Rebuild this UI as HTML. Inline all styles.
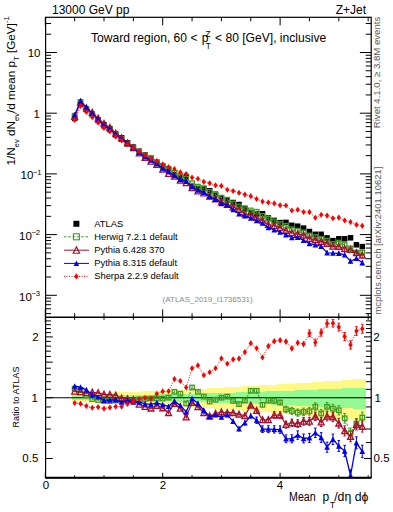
<!DOCTYPE html><html><head><meta charset="utf-8"><style>html,body{margin:0;padding:0;background:#fff;}svg{display:block;font-family:"Liberation Sans",sans-serif;}</style></head><body><svg width="393" height="512" viewBox="0 0 393 512" font-family="Liberation Sans, sans-serif">
<rect width="393" height="512" fill="#fff"/>
<defs><clipPath id="cm"><rect x="45.6" y="17.3" width="325.59999999999997" height="300.0"/></clipPath><clipPath id="cr"><rect x="45.6" y="317.3" width="325.59999999999997" height="160.5"/></clipPath></defs>
<g clip-path="url(#cm)">
<rect x="71.90" y="115.65" width="5.50" height="5.50" fill="#000"/>
<rect x="77.77" y="101.45" width="5.50" height="5.50" fill="#000"/>
<rect x="83.64" y="106.75" width="5.50" height="5.50" fill="#000"/>
<rect x="89.51" y="111.45" width="5.50" height="5.50" fill="#000"/>
<rect x="95.38" y="117.05" width="5.50" height="5.50" fill="#000"/>
<rect x="101.25" y="121.95" width="5.50" height="5.50" fill="#000"/>
<rect x="107.12" y="125.85" width="5.50" height="5.50" fill="#000"/>
<rect x="112.99" y="131.25" width="5.50" height="5.50" fill="#000"/>
<rect x="118.86" y="135.05" width="5.50" height="5.50" fill="#000"/>
<rect x="124.73" y="139.95" width="5.50" height="5.50" fill="#000"/>
<rect x="130.60" y="144.35" width="5.50" height="5.50" fill="#000"/>
<rect x="136.47" y="148.45" width="5.50" height="5.50" fill="#000"/>
<rect x="142.34" y="152.25" width="5.50" height="5.50" fill="#000"/>
<rect x="148.21" y="155.45" width="5.50" height="5.50" fill="#000"/>
<rect x="154.08" y="159.55" width="5.50" height="5.50" fill="#000"/>
<rect x="159.95" y="163.35" width="5.50" height="5.50" fill="#000"/>
<rect x="165.82" y="166.35" width="5.50" height="5.50" fill="#000"/>
<rect x="171.69" y="171.85" width="5.50" height="5.50" fill="#000"/>
<rect x="177.56" y="174.45" width="5.50" height="5.50" fill="#000"/>
<rect x="183.43" y="174.25" width="5.50" height="5.50" fill="#000"/>
<rect x="189.30" y="183.55" width="5.50" height="5.50" fill="#000"/>
<rect x="195.17" y="185.65" width="5.50" height="5.50" fill="#000"/>
<rect x="201.04" y="185.85" width="5.50" height="5.50" fill="#000"/>
<rect x="206.91" y="188.05" width="5.50" height="5.50" fill="#000"/>
<rect x="212.78" y="191.45" width="5.50" height="5.50" fill="#000"/>
<rect x="218.65" y="194.95" width="5.50" height="5.50" fill="#000"/>
<rect x="224.52" y="197.25" width="5.50" height="5.50" fill="#000"/>
<rect x="230.39" y="199.75" width="5.50" height="5.50" fill="#000"/>
<rect x="236.26" y="201.75" width="5.50" height="5.50" fill="#000"/>
<rect x="242.13" y="205.55" width="5.50" height="5.50" fill="#000"/>
<rect x="248.00" y="209.75" width="5.50" height="5.50" fill="#000"/>
<rect x="253.87" y="211.05" width="5.50" height="5.50" fill="#000"/>
<rect x="259.74" y="210.95" width="5.50" height="5.50" fill="#000"/>
<rect x="265.61" y="215.25" width="5.50" height="5.50" fill="#000"/>
<rect x="271.48" y="217.65" width="5.50" height="5.50" fill="#000"/>
<rect x="277.35" y="219.85" width="5.50" height="5.50" fill="#000"/>
<rect x="283.22" y="219.65" width="5.50" height="5.50" fill="#000"/>
<rect x="289.09" y="222.55" width="5.50" height="5.50" fill="#000"/>
<rect x="294.96" y="223.45" width="5.50" height="5.50" fill="#000"/>
<rect x="300.83" y="225.35" width="5.50" height="5.50" fill="#000"/>
<rect x="306.70" y="228.75" width="5.50" height="5.50" fill="#000"/>
<rect x="312.57" y="231.55" width="5.50" height="5.50" fill="#000"/>
<rect x="318.44" y="231.55" width="5.50" height="5.50" fill="#000"/>
<rect x="324.31" y="235.15" width="5.50" height="5.50" fill="#000"/>
<rect x="330.18" y="237.85" width="5.50" height="5.50" fill="#000"/>
<rect x="336.05" y="236.05" width="5.50" height="5.50" fill="#000"/>
<rect x="341.92" y="236.05" width="5.50" height="5.50" fill="#000"/>
<rect x="347.79" y="235.05" width="5.50" height="5.50" fill="#000"/>
<rect x="353.66" y="242.05" width="5.50" height="5.50" fill="#000"/>
<rect x="359.53" y="243.85" width="5.50" height="5.50" fill="#000"/>
<path d="M74.65,115.22V116.18M80.52,101.41V102.37M86.39,108.33V109.29M92.26,114.10V115.08M98.13,120.00V120.98M104.00,125.19V126.19M109.87,129.08V130.10M115.74,134.32V135.36M121.61,138.26V139.32M127.48,142.99V144.09M133.35,147.38V148.50M139.22,151.16V152.32M145.09,154.79V155.99M150.96,157.82V159.06M156.83,161.90V163.18M162.70,165.70V167.04M168.57,168.38V169.76M174.44,172.11V173.55M180.31,175.25V176.75M186.18,177.96V179.52M192.05,182.42V184.05M197.92,185.78V187.47M203.79,187.39V189.15M209.66,191.02V192.86M215.53,193.84V195.76M221.40,196.70V198.70M227.27,198.63V200.71M233.14,202.37V204.55M239.01,205.29V207.56M244.88,207.96V210.32M250.75,209.20V211.66M256.62,210.45V213.01M262.49,214.50V217.17M268.36,217.45V220.23M274.23,219.89V222.77M280.10,222.54V225.54M285.97,224.33V227.45M291.84,227.65V230.89M297.71,228.99V232.36M303.58,230.59V234.08M309.45,233.74V237.37M315.32,235.15V238.91M321.19,237.10V241.00M327.06,238.61V242.65M332.93,241.81V246.00M338.80,240.42V244.75M344.67,242.75V247.23M350.54,246.09V250.73M356.41,250.18V254.98M362.28,250.07V255.03" stroke="#3f9a22" stroke-width="1" fill="none"/>
<path d="M74.65,116.00V116.96M80.52,101.95V102.91M86.39,107.54V108.51M92.26,112.09V113.06M98.13,117.83V118.82M104.00,123.18V124.18M109.87,127.16V128.18M115.74,132.73V133.77M121.61,137.42V138.48M127.48,142.54V143.64M133.35,147.17V148.29M139.22,152.60V153.76M145.09,157.07V158.27M150.96,160.73V161.98M156.83,164.00V165.29M162.70,168.53V169.86M168.57,172.91V174.30M174.44,175.62V177.06M180.31,179.67V181.17M186.18,182.05V183.61M192.05,186.93V188.56M197.92,190.29V191.98M203.79,192.22V193.99M209.66,195.38V197.22M215.53,197.99V199.91M221.40,201.00V203.00M227.27,203.46V205.55M233.14,205.92V208.09M239.01,208.39V210.65M244.88,212.59V214.95M250.75,213.52V215.98M256.62,216.40V218.96M262.49,219.01V221.67M268.36,223.25V226.03M274.23,224.16V227.04M280.10,226.36V229.36M285.97,228.92V232.04M291.84,231.22V234.46M297.71,232.30V235.67M303.58,233.44V236.94M309.45,236.78V240.40M315.32,238.04V241.80M321.19,239.68V243.58M327.06,241.50V245.54M332.93,244.31V248.49M338.80,244.30V248.63M344.67,246.53V251.02M350.54,247.17V251.81M356.41,250.48V255.28M362.28,252.77V257.73" stroke="#a5102a" stroke-width="1" fill="none"/>
<path d="M74.65,114.40V115.48M80.52,100.50V101.59M86.39,106.58V107.67M92.26,112.78V113.88M98.13,119.00V120.11M104.00,124.95V126.07M109.87,128.72V129.86M115.74,134.05V135.22M121.61,138.49V139.69M127.48,142.93V144.16M133.35,147.76V149.03M139.22,151.84V153.15M145.09,156.19V157.54M150.96,159.48V160.88M156.83,163.11V164.56M162.70,167.42V168.92M168.57,170.93V172.49M174.44,174.78V176.40M180.31,178.67V180.36M186.18,180.39V182.15M192.05,185.66V187.49M197.92,189.19V191.10M203.79,191.39V193.38M209.66,195.50V197.58M215.53,198.29V200.45M221.40,202.37V204.63M227.27,204.00V206.34M233.14,208.37V210.81M239.01,212.57V215.12M244.88,214.51V217.17M250.75,216.59V219.35M256.62,219.12V222.00M262.49,221.67V224.67M268.36,225.91V229.03M274.23,228.30V231.55M280.10,230.50V233.87M285.97,233.00V236.51M291.84,235.83V239.47M297.71,235.55V239.33M303.58,238.40V242.33M309.45,241.54V245.62M315.32,242.73V246.96M321.19,244.07V248.45M327.06,250.50V255.05M332.93,250.75V255.46M338.80,250.88V255.75M344.67,252.29V257.34M350.54,258.57V263.79M356.41,255.65V261.05M362.28,259.95V265.53" stroke="#0000ee" stroke-width="1" fill="none"/>
<path d="M74.65,119.57V120.41M80.52,105.58V106.42M86.39,111.57V112.42M92.26,116.81V117.66M98.13,122.19V123.06M104.00,127.54V128.41M109.87,131.10V131.99M115.74,136.22V137.13M121.61,140.01V140.94M127.48,144.08V145.04M133.35,147.90V148.89M139.22,151.08V152.10M145.09,154.54V155.59M150.96,157.96V159.04M156.83,160.54V161.66M162.70,163.62V164.79M168.57,166.54V167.75M174.44,168.38V169.64M180.31,171.53V172.84M186.18,173.25V174.62M192.05,176.75V178.18M197.92,177.95V179.44M203.79,181.07V182.61M209.66,182.33V183.94M215.53,184.53V186.21M221.40,185.01V186.77M227.27,188.87V190.70M233.14,190.04V191.94M239.01,191.76V193.74M244.88,193.56V195.63M250.75,195.08V197.23M256.62,197.83V200.08M262.49,200.45V202.79M268.36,201.28V203.71M274.23,202.16V204.68M280.10,204.04V206.66M285.97,204.18V206.91M291.84,209.07V211.90M297.71,208.23V211.18M303.58,210.46V213.52M309.45,210.53V213.70M315.32,216.07V219.36M321.19,213.03V216.44M327.06,213.84V217.37M332.93,216.41V220.07M338.80,215.69V219.48M344.67,218.48V222.40M350.54,219.90V223.96M356.41,222.66V226.86M362.28,223.70V228.04" stroke="#ff0000" stroke-width="1" fill="none"/>
<polyline points="74.65,115.70 80.52,101.89 86.39,108.81 92.26,114.59 98.13,120.49 104.00,125.69 109.87,129.59 115.74,134.84 121.61,138.79 127.48,143.54 133.35,147.94 139.22,151.74 145.09,155.39 150.96,158.44 156.83,162.54 162.70,166.37 168.57,169.07 174.44,172.83 180.31,176.00 186.18,178.74 192.05,183.23 197.92,186.63 203.79,188.27 209.66,191.94 215.53,194.80 221.40,197.70 227.27,199.67 233.14,203.46 239.01,206.42 244.88,209.14 250.75,210.43 256.62,211.73 262.49,215.83 268.36,218.84 274.23,221.33 280.10,224.04 285.97,225.89 291.84,229.27 297.71,230.68 303.58,232.34 309.45,235.56 315.32,237.03 321.19,239.05 327.06,240.63 332.93,243.91 338.80,242.59 344.67,244.99 350.54,248.41 356.41,252.58 362.28,252.55" fill="none" stroke="#3f9a22" stroke-width="1.0" stroke-dasharray="2.5,1.8"/>
<rect x="72.40" y="113.45" width="4.50" height="4.50" fill="none" stroke="#3f9a22" stroke-width="1.3"/>
<rect x="78.27" y="99.64" width="4.50" height="4.50" fill="none" stroke="#3f9a22" stroke-width="1.3"/>
<rect x="84.14" y="106.56" width="4.50" height="4.50" fill="none" stroke="#3f9a22" stroke-width="1.3"/>
<rect x="90.01" y="112.34" width="4.50" height="4.50" fill="none" stroke="#3f9a22" stroke-width="1.3"/>
<rect x="95.88" y="118.24" width="4.50" height="4.50" fill="none" stroke="#3f9a22" stroke-width="1.3"/>
<rect x="101.75" y="123.44" width="4.50" height="4.50" fill="none" stroke="#3f9a22" stroke-width="1.3"/>
<rect x="107.62" y="127.34" width="4.50" height="4.50" fill="none" stroke="#3f9a22" stroke-width="1.3"/>
<rect x="113.49" y="132.59" width="4.50" height="4.50" fill="none" stroke="#3f9a22" stroke-width="1.3"/>
<rect x="119.36" y="136.54" width="4.50" height="4.50" fill="none" stroke="#3f9a22" stroke-width="1.3"/>
<rect x="125.23" y="141.29" width="4.50" height="4.50" fill="none" stroke="#3f9a22" stroke-width="1.3"/>
<rect x="131.10" y="145.69" width="4.50" height="4.50" fill="none" stroke="#3f9a22" stroke-width="1.3"/>
<rect x="136.97" y="149.49" width="4.50" height="4.50" fill="none" stroke="#3f9a22" stroke-width="1.3"/>
<rect x="142.84" y="153.14" width="4.50" height="4.50" fill="none" stroke="#3f9a22" stroke-width="1.3"/>
<rect x="148.71" y="156.19" width="4.50" height="4.50" fill="none" stroke="#3f9a22" stroke-width="1.3"/>
<rect x="154.58" y="160.29" width="4.50" height="4.50" fill="none" stroke="#3f9a22" stroke-width="1.3"/>
<rect x="160.45" y="164.12" width="4.50" height="4.50" fill="none" stroke="#3f9a22" stroke-width="1.3"/>
<rect x="166.32" y="166.82" width="4.50" height="4.50" fill="none" stroke="#3f9a22" stroke-width="1.3"/>
<rect x="172.19" y="170.58" width="4.50" height="4.50" fill="none" stroke="#3f9a22" stroke-width="1.3"/>
<rect x="178.06" y="173.75" width="4.50" height="4.50" fill="none" stroke="#3f9a22" stroke-width="1.3"/>
<rect x="183.93" y="176.49" width="4.50" height="4.50" fill="none" stroke="#3f9a22" stroke-width="1.3"/>
<rect x="189.80" y="180.98" width="4.50" height="4.50" fill="none" stroke="#3f9a22" stroke-width="1.3"/>
<rect x="195.67" y="184.38" width="4.50" height="4.50" fill="none" stroke="#3f9a22" stroke-width="1.3"/>
<rect x="201.54" y="186.02" width="4.50" height="4.50" fill="none" stroke="#3f9a22" stroke-width="1.3"/>
<rect x="207.41" y="189.69" width="4.50" height="4.50" fill="none" stroke="#3f9a22" stroke-width="1.3"/>
<rect x="213.28" y="192.55" width="4.50" height="4.50" fill="none" stroke="#3f9a22" stroke-width="1.3"/>
<rect x="219.15" y="195.45" width="4.50" height="4.50" fill="none" stroke="#3f9a22" stroke-width="1.3"/>
<rect x="225.02" y="197.42" width="4.50" height="4.50" fill="none" stroke="#3f9a22" stroke-width="1.3"/>
<rect x="230.89" y="201.21" width="4.50" height="4.50" fill="none" stroke="#3f9a22" stroke-width="1.3"/>
<rect x="236.76" y="204.17" width="4.50" height="4.50" fill="none" stroke="#3f9a22" stroke-width="1.3"/>
<rect x="242.63" y="206.89" width="4.50" height="4.50" fill="none" stroke="#3f9a22" stroke-width="1.3"/>
<rect x="248.50" y="208.18" width="4.50" height="4.50" fill="none" stroke="#3f9a22" stroke-width="1.3"/>
<rect x="254.37" y="209.48" width="4.50" height="4.50" fill="none" stroke="#3f9a22" stroke-width="1.3"/>
<rect x="260.24" y="213.58" width="4.50" height="4.50" fill="none" stroke="#3f9a22" stroke-width="1.3"/>
<rect x="266.11" y="216.59" width="4.50" height="4.50" fill="none" stroke="#3f9a22" stroke-width="1.3"/>
<rect x="271.98" y="219.08" width="4.50" height="4.50" fill="none" stroke="#3f9a22" stroke-width="1.3"/>
<rect x="277.85" y="221.79" width="4.50" height="4.50" fill="none" stroke="#3f9a22" stroke-width="1.3"/>
<rect x="283.72" y="223.64" width="4.50" height="4.50" fill="none" stroke="#3f9a22" stroke-width="1.3"/>
<rect x="289.59" y="227.02" width="4.50" height="4.50" fill="none" stroke="#3f9a22" stroke-width="1.3"/>
<rect x="295.46" y="228.43" width="4.50" height="4.50" fill="none" stroke="#3f9a22" stroke-width="1.3"/>
<rect x="301.33" y="230.09" width="4.50" height="4.50" fill="none" stroke="#3f9a22" stroke-width="1.3"/>
<rect x="307.20" y="233.31" width="4.50" height="4.50" fill="none" stroke="#3f9a22" stroke-width="1.3"/>
<rect x="313.07" y="234.78" width="4.50" height="4.50" fill="none" stroke="#3f9a22" stroke-width="1.3"/>
<rect x="318.94" y="236.80" width="4.50" height="4.50" fill="none" stroke="#3f9a22" stroke-width="1.3"/>
<rect x="324.81" y="238.38" width="4.50" height="4.50" fill="none" stroke="#3f9a22" stroke-width="1.3"/>
<rect x="330.68" y="241.66" width="4.50" height="4.50" fill="none" stroke="#3f9a22" stroke-width="1.3"/>
<rect x="336.55" y="240.34" width="4.50" height="4.50" fill="none" stroke="#3f9a22" stroke-width="1.3"/>
<rect x="342.42" y="242.74" width="4.50" height="4.50" fill="none" stroke="#3f9a22" stroke-width="1.3"/>
<rect x="348.29" y="246.16" width="4.50" height="4.50" fill="none" stroke="#3f9a22" stroke-width="1.3"/>
<rect x="354.16" y="250.33" width="4.50" height="4.50" fill="none" stroke="#3f9a22" stroke-width="1.3"/>
<rect x="360.03" y="250.30" width="4.50" height="4.50" fill="none" stroke="#3f9a22" stroke-width="1.3"/>
<polyline points="74.65,116.48 80.52,102.43 86.39,108.03 92.26,112.58 98.13,118.33 104.00,123.68 109.87,127.67 115.74,133.25 121.61,137.95 127.48,143.09 133.35,147.73 139.22,153.18 145.09,157.67 150.96,161.36 156.83,164.64 162.70,169.20 168.57,173.61 174.44,176.34 180.31,180.42 186.18,182.83 192.05,187.74 197.92,191.13 203.79,193.11 209.66,196.30 215.53,198.95 221.40,202.00 227.27,204.51 233.14,207.01 239.01,209.52 244.88,213.77 250.75,214.75 256.62,217.68 262.49,220.34 268.36,224.64 274.23,225.60 280.10,227.86 285.97,230.48 291.84,232.84 297.71,233.98 303.58,235.19 309.45,238.59 315.32,239.92 321.19,241.63 327.06,243.52 332.93,246.40 338.80,246.46 344.67,248.78 350.54,249.49 356.41,252.88 362.28,255.25" fill="none" stroke="#a5102a" stroke-width="1.1"/>
<polygon points="71.75,119.23 77.55,119.23 74.65,113.43" fill="none" stroke="#a5102a" stroke-width="1.35"/>
<polygon points="77.62,105.18 83.42,105.18 80.52,99.38" fill="none" stroke="#a5102a" stroke-width="1.35"/>
<polygon points="83.49,110.78 89.29,110.78 86.39,104.98" fill="none" stroke="#a5102a" stroke-width="1.35"/>
<polygon points="89.36,115.33 95.16,115.33 92.26,109.53" fill="none" stroke="#a5102a" stroke-width="1.35"/>
<polygon points="95.23,121.08 101.03,121.08 98.13,115.28" fill="none" stroke="#a5102a" stroke-width="1.35"/>
<polygon points="101.10,126.43 106.90,126.43 104.00,120.63" fill="none" stroke="#a5102a" stroke-width="1.35"/>
<polygon points="106.97,130.42 112.77,130.42 109.87,124.62" fill="none" stroke="#a5102a" stroke-width="1.35"/>
<polygon points="112.84,136.00 118.64,136.00 115.74,130.20" fill="none" stroke="#a5102a" stroke-width="1.35"/>
<polygon points="118.71,140.71 124.51,140.71 121.61,134.91" fill="none" stroke="#a5102a" stroke-width="1.35"/>
<polygon points="124.58,145.85 130.38,145.85 127.48,140.05" fill="none" stroke="#a5102a" stroke-width="1.35"/>
<polygon points="130.45,150.49 136.25,150.49 133.35,144.69" fill="none" stroke="#a5102a" stroke-width="1.35"/>
<polygon points="136.32,155.94 142.12,155.94 139.22,150.14" fill="none" stroke="#a5102a" stroke-width="1.35"/>
<polygon points="142.19,160.43 147.99,160.43 145.09,154.63" fill="none" stroke="#a5102a" stroke-width="1.35"/>
<polygon points="148.06,164.11 153.86,164.11 150.96,158.31" fill="none" stroke="#a5102a" stroke-width="1.35"/>
<polygon points="153.93,167.40 159.73,167.40 156.83,161.60" fill="none" stroke="#a5102a" stroke-width="1.35"/>
<polygon points="159.80,171.95 165.60,171.95 162.70,166.15" fill="none" stroke="#a5102a" stroke-width="1.35"/>
<polygon points="165.67,176.36 171.47,176.36 168.57,170.56" fill="none" stroke="#a5102a" stroke-width="1.35"/>
<polygon points="171.54,179.10 177.34,179.10 174.44,173.30" fill="none" stroke="#a5102a" stroke-width="1.35"/>
<polygon points="177.41,183.17 183.21,183.17 180.31,177.37" fill="none" stroke="#a5102a" stroke-width="1.35"/>
<polygon points="183.28,185.58 189.08,185.58 186.18,179.78" fill="none" stroke="#a5102a" stroke-width="1.35"/>
<polygon points="189.15,190.50 194.95,190.50 192.05,184.70" fill="none" stroke="#a5102a" stroke-width="1.35"/>
<polygon points="195.02,193.89 200.82,193.89 197.92,188.09" fill="none" stroke="#a5102a" stroke-width="1.35"/>
<polygon points="200.89,195.86 206.69,195.86 203.79,190.06" fill="none" stroke="#a5102a" stroke-width="1.35"/>
<polygon points="206.76,199.05 212.56,199.05 209.66,193.25" fill="none" stroke="#a5102a" stroke-width="1.35"/>
<polygon points="212.63,201.70 218.43,201.70 215.53,195.90" fill="none" stroke="#a5102a" stroke-width="1.35"/>
<polygon points="218.50,204.75 224.30,204.75 221.40,198.95" fill="none" stroke="#a5102a" stroke-width="1.35"/>
<polygon points="224.37,207.26 230.17,207.26 227.27,201.46" fill="none" stroke="#a5102a" stroke-width="1.35"/>
<polygon points="230.24,209.76 236.04,209.76 233.14,203.96" fill="none" stroke="#a5102a" stroke-width="1.35"/>
<polygon points="236.11,212.27 241.91,212.27 239.01,206.47" fill="none" stroke="#a5102a" stroke-width="1.35"/>
<polygon points="241.98,216.52 247.78,216.52 244.88,210.72" fill="none" stroke="#a5102a" stroke-width="1.35"/>
<polygon points="247.85,217.51 253.65,217.51 250.75,211.71" fill="none" stroke="#a5102a" stroke-width="1.35"/>
<polygon points="253.72,220.43 259.52,220.43 256.62,214.63" fill="none" stroke="#a5102a" stroke-width="1.35"/>
<polygon points="259.59,223.10 265.39,223.10 262.49,217.30" fill="none" stroke="#a5102a" stroke-width="1.35"/>
<polygon points="265.46,227.40 271.26,227.40 268.36,221.60" fill="none" stroke="#a5102a" stroke-width="1.35"/>
<polygon points="271.33,228.35 277.13,228.35 274.23,222.55" fill="none" stroke="#a5102a" stroke-width="1.35"/>
<polygon points="277.20,230.61 283.00,230.61 280.10,224.81" fill="none" stroke="#a5102a" stroke-width="1.35"/>
<polygon points="283.07,233.24 288.87,233.24 285.97,227.44" fill="none" stroke="#a5102a" stroke-width="1.35"/>
<polygon points="288.94,235.60 294.74,235.60 291.84,229.80" fill="none" stroke="#a5102a" stroke-width="1.35"/>
<polygon points="294.81,236.74 300.61,236.74 297.71,230.94" fill="none" stroke="#a5102a" stroke-width="1.35"/>
<polygon points="300.68,237.95 306.48,237.95 303.58,232.15" fill="none" stroke="#a5102a" stroke-width="1.35"/>
<polygon points="306.55,241.35 312.35,241.35 309.45,235.55" fill="none" stroke="#a5102a" stroke-width="1.35"/>
<polygon points="312.42,242.67 318.22,242.67 315.32,236.87" fill="none" stroke="#a5102a" stroke-width="1.35"/>
<polygon points="318.29,244.39 324.09,244.39 321.19,238.59" fill="none" stroke="#a5102a" stroke-width="1.35"/>
<polygon points="324.16,246.27 329.96,246.27 327.06,240.47" fill="none" stroke="#a5102a" stroke-width="1.35"/>
<polygon points="330.03,249.15 335.83,249.15 332.93,243.35" fill="none" stroke="#a5102a" stroke-width="1.35"/>
<polygon points="335.90,249.22 341.70,249.22 338.80,243.42" fill="none" stroke="#a5102a" stroke-width="1.35"/>
<polygon points="341.77,251.53 347.57,251.53 344.67,245.73" fill="none" stroke="#a5102a" stroke-width="1.35"/>
<polygon points="347.64,252.24 353.44,252.24 350.54,246.44" fill="none" stroke="#a5102a" stroke-width="1.35"/>
<polygon points="353.51,255.64 359.31,255.64 356.41,249.84" fill="none" stroke="#a5102a" stroke-width="1.35"/>
<polygon points="359.38,258.01 365.18,258.01 362.28,252.21" fill="none" stroke="#a5102a" stroke-width="1.35"/>
<polyline points="74.65,114.94 80.52,101.04 86.39,107.13 92.26,113.33 98.13,119.56 104.00,125.51 109.87,129.29 115.74,134.63 121.61,139.09 127.48,143.54 133.35,148.39 139.22,152.49 145.09,156.86 150.96,160.18 156.83,163.83 162.70,168.17 168.57,171.71 174.44,175.59 180.31,179.51 186.18,181.27 192.05,186.57 197.92,190.14 203.79,192.39 209.66,196.54 215.53,199.37 221.40,203.50 227.27,205.17 233.14,209.59 239.01,213.85 244.88,215.84 250.75,217.97 256.62,220.56 262.49,223.17 268.36,227.47 274.23,229.93 280.10,232.19 285.97,234.75 291.84,237.65 297.71,237.44 303.58,240.36 309.45,243.58 315.32,244.85 321.19,246.26 327.06,252.77 332.93,253.10 338.80,253.31 344.67,254.82 350.54,261.18 356.41,258.35 362.28,262.74" fill="none" stroke="#0000ee" stroke-width="1.2"/>
<polygon points="71.85,117.60 77.45,117.60 74.65,112.00" fill="#0000ee"/>
<polygon points="77.72,103.70 83.32,103.70 80.52,98.10" fill="#0000ee"/>
<polygon points="83.59,109.79 89.19,109.79 86.39,104.19" fill="#0000ee"/>
<polygon points="89.46,115.99 95.06,115.99 92.26,110.39" fill="#0000ee"/>
<polygon points="95.33,122.22 100.93,122.22 98.13,116.62" fill="#0000ee"/>
<polygon points="101.20,128.17 106.80,128.17 104.00,122.57" fill="#0000ee"/>
<polygon points="107.07,131.95 112.67,131.95 109.87,126.35" fill="#0000ee"/>
<polygon points="112.94,137.29 118.54,137.29 115.74,131.69" fill="#0000ee"/>
<polygon points="118.81,141.75 124.41,141.75 121.61,136.15" fill="#0000ee"/>
<polygon points="124.68,146.20 130.28,146.20 127.48,140.60" fill="#0000ee"/>
<polygon points="130.55,151.05 136.15,151.05 133.35,145.45" fill="#0000ee"/>
<polygon points="136.42,155.15 142.02,155.15 139.22,149.55" fill="#0000ee"/>
<polygon points="142.29,159.52 147.89,159.52 145.09,153.92" fill="#0000ee"/>
<polygon points="148.16,162.84 153.76,162.84 150.96,157.24" fill="#0000ee"/>
<polygon points="154.03,166.49 159.63,166.49 156.83,160.89" fill="#0000ee"/>
<polygon points="159.90,170.83 165.50,170.83 162.70,165.23" fill="#0000ee"/>
<polygon points="165.77,174.37 171.37,174.37 168.57,168.77" fill="#0000ee"/>
<polygon points="171.64,178.25 177.24,178.25 174.44,172.65" fill="#0000ee"/>
<polygon points="177.51,182.17 183.11,182.17 180.31,176.57" fill="#0000ee"/>
<polygon points="183.38,183.93 188.98,183.93 186.18,178.33" fill="#0000ee"/>
<polygon points="189.25,189.23 194.85,189.23 192.05,183.63" fill="#0000ee"/>
<polygon points="195.12,192.80 200.72,192.80 197.92,187.20" fill="#0000ee"/>
<polygon points="200.99,195.05 206.59,195.05 203.79,189.45" fill="#0000ee"/>
<polygon points="206.86,199.20 212.46,199.20 209.66,193.60" fill="#0000ee"/>
<polygon points="212.73,202.03 218.33,202.03 215.53,196.43" fill="#0000ee"/>
<polygon points="218.60,206.16 224.20,206.16 221.40,200.56" fill="#0000ee"/>
<polygon points="224.47,207.83 230.07,207.83 227.27,202.23" fill="#0000ee"/>
<polygon points="230.34,212.25 235.94,212.25 233.14,206.65" fill="#0000ee"/>
<polygon points="236.21,216.51 241.81,216.51 239.01,210.91" fill="#0000ee"/>
<polygon points="242.08,218.50 247.68,218.50 244.88,212.90" fill="#0000ee"/>
<polygon points="247.95,220.63 253.55,220.63 250.75,215.03" fill="#0000ee"/>
<polygon points="253.82,223.22 259.42,223.22 256.62,217.62" fill="#0000ee"/>
<polygon points="259.69,225.83 265.29,225.83 262.49,220.23" fill="#0000ee"/>
<polygon points="265.56,230.13 271.16,230.13 268.36,224.53" fill="#0000ee"/>
<polygon points="271.43,232.59 277.03,232.59 274.23,226.99" fill="#0000ee"/>
<polygon points="277.30,234.85 282.90,234.85 280.10,229.25" fill="#0000ee"/>
<polygon points="283.17,237.41 288.77,237.41 285.97,231.81" fill="#0000ee"/>
<polygon points="289.04,240.31 294.64,240.31 291.84,234.71" fill="#0000ee"/>
<polygon points="294.91,240.10 300.51,240.10 297.71,234.50" fill="#0000ee"/>
<polygon points="300.78,243.02 306.38,243.02 303.58,237.42" fill="#0000ee"/>
<polygon points="306.65,246.24 312.25,246.24 309.45,240.64" fill="#0000ee"/>
<polygon points="312.52,247.51 318.12,247.51 315.32,241.91" fill="#0000ee"/>
<polygon points="318.39,248.92 323.99,248.92 321.19,243.32" fill="#0000ee"/>
<polygon points="324.26,255.43 329.86,255.43 327.06,249.83" fill="#0000ee"/>
<polygon points="330.13,255.76 335.73,255.76 332.93,250.16" fill="#0000ee"/>
<polygon points="336.00,255.97 341.60,255.97 338.80,250.37" fill="#0000ee"/>
<polygon points="341.87,257.48 347.47,257.48 344.67,251.88" fill="#0000ee"/>
<polygon points="347.74,263.84 353.34,263.84 350.54,258.24" fill="#0000ee"/>
<polygon points="353.61,261.01 359.21,261.01 356.41,255.41" fill="#0000ee"/>
<polygon points="359.48,265.40 365.08,265.40 362.28,259.80" fill="#0000ee"/>
<polyline points="74.65,119.99 80.52,106.00 86.39,111.99 92.26,117.24 98.13,122.62 104.00,127.98 109.87,131.54 115.74,136.67 121.61,140.47 127.48,144.56 133.35,148.39 139.22,151.59 145.09,155.06 150.96,158.50 156.83,161.10 162.70,164.21 168.57,167.15 174.44,169.01 180.31,172.18 186.18,173.93 192.05,177.47 197.92,178.69 203.79,181.84 209.66,183.14 215.53,185.37 221.40,185.89 227.27,189.78 233.14,190.99 239.01,192.75 244.88,194.60 250.75,196.15 256.62,198.96 262.49,201.62 268.36,202.49 274.23,203.42 280.10,205.35 285.97,205.54 291.84,210.49 297.71,209.70 303.58,211.99 309.45,212.12 315.32,217.71 321.19,214.74 327.06,215.60 332.93,218.24 338.80,217.58 344.67,220.44 350.54,221.93 356.41,224.76 362.28,225.87" fill="none" stroke="#ff0000" stroke-width="1.0" stroke-dasharray="1,1.5"/>
<polygon points="74.65,116.94 76.80,119.99 74.65,123.05 72.50,119.99" fill="#ff0000"/>
<polygon points="80.52,102.95 82.67,106.00 80.52,109.06 78.37,106.00" fill="#ff0000"/>
<polygon points="86.39,108.94 88.54,111.99 86.39,115.05 84.24,111.99" fill="#ff0000"/>
<polygon points="92.26,114.18 94.41,117.24 92.26,120.29 90.11,117.24" fill="#ff0000"/>
<polygon points="98.13,119.57 100.28,122.62 98.13,125.68 95.98,122.62" fill="#ff0000"/>
<polygon points="104.00,124.92 106.15,127.98 104.00,131.03 101.85,127.98" fill="#ff0000"/>
<polygon points="109.87,128.49 112.02,131.54 109.87,134.60 107.72,131.54" fill="#ff0000"/>
<polygon points="115.74,133.62 117.89,136.67 115.74,139.73 113.59,136.67" fill="#ff0000"/>
<polygon points="121.61,137.42 123.76,140.47 121.61,143.53 119.46,140.47" fill="#ff0000"/>
<polygon points="127.48,141.51 129.63,144.56 127.48,147.62 125.33,144.56" fill="#ff0000"/>
<polygon points="133.35,145.34 135.50,148.39 133.35,151.45 131.20,148.39" fill="#ff0000"/>
<polygon points="139.22,148.54 141.37,151.59 139.22,154.64 137.07,151.59" fill="#ff0000"/>
<polygon points="145.09,152.01 147.24,155.06 145.09,158.11 142.94,155.06" fill="#ff0000"/>
<polygon points="150.96,155.45 153.11,158.50 150.96,161.55 148.81,158.50" fill="#ff0000"/>
<polygon points="156.83,158.05 158.98,161.10 156.83,164.15 154.68,161.10" fill="#ff0000"/>
<polygon points="162.70,161.15 164.85,164.21 162.70,167.26 160.55,164.21" fill="#ff0000"/>
<polygon points="168.57,164.09 170.72,167.15 168.57,170.20 166.42,167.15" fill="#ff0000"/>
<polygon points="174.44,165.96 176.59,169.01 174.44,172.06 172.29,169.01" fill="#ff0000"/>
<polygon points="180.31,169.13 182.46,172.18 180.31,175.23 178.16,172.18" fill="#ff0000"/>
<polygon points="186.18,170.88 188.33,173.93 186.18,176.99 184.03,173.93" fill="#ff0000"/>
<polygon points="192.05,174.41 194.20,177.47 192.05,180.52 189.90,177.47" fill="#ff0000"/>
<polygon points="197.92,175.64 200.07,178.69 197.92,181.75 195.77,178.69" fill="#ff0000"/>
<polygon points="203.79,178.79 205.94,181.84 203.79,184.89 201.64,181.84" fill="#ff0000"/>
<polygon points="209.66,180.08 211.81,183.14 209.66,186.19 207.51,183.14" fill="#ff0000"/>
<polygon points="215.53,182.31 217.68,185.37 215.53,188.42 213.38,185.37" fill="#ff0000"/>
<polygon points="221.40,182.84 223.55,185.89 221.40,188.94 219.25,185.89" fill="#ff0000"/>
<polygon points="227.27,186.73 229.42,189.78 227.27,192.84 225.12,189.78" fill="#ff0000"/>
<polygon points="233.14,187.94 235.29,190.99 233.14,194.04 230.99,190.99" fill="#ff0000"/>
<polygon points="239.01,189.70 241.16,192.75 239.01,195.80 236.86,192.75" fill="#ff0000"/>
<polygon points="244.88,191.54 247.03,194.60 244.88,197.65 242.73,194.60" fill="#ff0000"/>
<polygon points="250.75,193.10 252.90,196.15 250.75,199.21 248.60,196.15" fill="#ff0000"/>
<polygon points="256.62,195.90 258.77,198.96 256.62,202.01 254.47,198.96" fill="#ff0000"/>
<polygon points="262.49,198.57 264.64,201.62 262.49,204.67 260.34,201.62" fill="#ff0000"/>
<polygon points="268.36,199.44 270.51,202.49 268.36,205.55 266.21,202.49" fill="#ff0000"/>
<polygon points="274.23,200.37 276.38,203.42 274.23,206.47 272.08,203.42" fill="#ff0000"/>
<polygon points="280.10,202.30 282.25,205.35 280.10,208.40 277.95,205.35" fill="#ff0000"/>
<polygon points="285.97,202.49 288.12,205.54 285.97,208.59 283.82,205.54" fill="#ff0000"/>
<polygon points="291.84,207.43 293.99,210.49 291.84,213.54 289.69,210.49" fill="#ff0000"/>
<polygon points="297.71,206.65 299.86,209.70 297.71,212.76 295.56,209.70" fill="#ff0000"/>
<polygon points="303.58,208.94 305.73,211.99 303.58,215.05 301.43,211.99" fill="#ff0000"/>
<polygon points="309.45,209.06 311.60,212.12 309.45,215.17 307.30,212.12" fill="#ff0000"/>
<polygon points="315.32,214.66 317.47,217.71 315.32,220.77 313.17,217.71" fill="#ff0000"/>
<polygon points="321.19,211.68 323.34,214.74 321.19,217.79 319.04,214.74" fill="#ff0000"/>
<polygon points="327.06,212.55 329.21,215.60 327.06,218.66 324.91,215.60" fill="#ff0000"/>
<polygon points="332.93,215.19 335.08,218.24 332.93,221.30 330.78,218.24" fill="#ff0000"/>
<polygon points="338.80,214.53 340.95,217.58 338.80,220.64 336.65,217.58" fill="#ff0000"/>
<polygon points="344.67,217.39 346.82,220.44 344.67,223.49 342.52,220.44" fill="#ff0000"/>
<polygon points="350.54,218.88 352.69,221.93 350.54,224.99 348.39,221.93" fill="#ff0000"/>
<polygon points="356.41,221.70 358.56,224.76 356.41,227.81 354.26,224.76" fill="#ff0000"/>
<polygon points="362.28,222.81 364.43,225.87 362.28,228.92 360.13,225.87" fill="#ff0000"/>
</g>
<g clip-path="url(#cr)">
<g shape-rendering="crispEdges"><rect x="71.72" y="393.59" width="6.17" height="8.43" fill="#fff884"/><rect x="77.58" y="393.43" width="6.17" height="8.76" fill="#fff884"/><rect x="83.45" y="393.27" width="6.17" height="9.10" fill="#fff884"/><rect x="89.33" y="393.10" width="6.17" height="9.46" fill="#fff884"/><rect x="95.19" y="392.92" width="6.17" height="9.84" fill="#fff884"/><rect x="101.06" y="392.74" width="6.17" height="10.23" fill="#fff884"/><rect x="106.94" y="392.55" width="6.17" height="10.63" fill="#fff884"/><rect x="112.80" y="392.35" width="6.17" height="11.05" fill="#fff884"/><rect x="118.67" y="392.15" width="6.17" height="11.48" fill="#fff884"/><rect x="124.54" y="391.94" width="6.17" height="11.93" fill="#fff884"/><rect x="130.41" y="391.72" width="6.17" height="12.39" fill="#fff884"/><rect x="136.29" y="391.50" width="6.17" height="12.87" fill="#fff884"/><rect x="142.16" y="391.27" width="6.17" height="13.37" fill="#fff884"/><rect x="148.03" y="391.04" width="6.17" height="13.87" fill="#fff884"/><rect x="153.89" y="390.80" width="6.17" height="14.40" fill="#fff884"/><rect x="159.76" y="390.55" width="6.17" height="14.93" fill="#fff884"/><rect x="165.64" y="390.30" width="6.17" height="15.49" fill="#fff884"/><rect x="171.51" y="390.04" width="6.17" height="16.05" fill="#fff884"/><rect x="177.38" y="389.78" width="6.17" height="16.64" fill="#fff884"/><rect x="183.25" y="389.50" width="6.17" height="17.24" fill="#fff884"/><rect x="189.12" y="389.23" width="6.17" height="17.85" fill="#fff884"/><rect x="194.99" y="388.95" width="6.17" height="18.48" fill="#fff884"/><rect x="200.86" y="388.66" width="6.17" height="19.12" fill="#fff884"/><rect x="206.73" y="388.37" width="6.17" height="19.78" fill="#fff884"/><rect x="212.60" y="388.07" width="6.17" height="20.45" fill="#fff884"/><rect x="218.47" y="387.76" width="6.17" height="21.14" fill="#fff884"/><rect x="224.34" y="387.45" width="6.17" height="21.85" fill="#fff884"/><rect x="230.21" y="387.14" width="6.17" height="22.57" fill="#fff884"/><rect x="236.07" y="386.82" width="6.17" height="23.31" fill="#fff884"/><rect x="241.94" y="386.49" width="6.17" height="24.06" fill="#fff884"/><rect x="247.81" y="386.16" width="6.17" height="24.83" fill="#fff884"/><rect x="253.69" y="385.83" width="6.17" height="25.61" fill="#fff884"/><rect x="259.56" y="385.48" width="6.17" height="26.41" fill="#fff884"/><rect x="265.43" y="385.14" width="6.17" height="27.23" fill="#fff884"/><rect x="271.30" y="384.79" width="6.17" height="28.06" fill="#fff884"/><rect x="277.17" y="384.43" width="6.17" height="28.91" fill="#fff884"/><rect x="283.04" y="384.07" width="6.17" height="29.77" fill="#fff884"/><rect x="288.91" y="383.71" width="6.17" height="30.65" fill="#fff884"/><rect x="294.78" y="383.34" width="6.17" height="31.55" fill="#fff884"/><rect x="300.65" y="382.96" width="6.17" height="32.47" fill="#fff884"/><rect x="306.52" y="382.58" width="6.17" height="33.40" fill="#fff884"/><rect x="312.38" y="382.20" width="6.17" height="34.35" fill="#fff884"/><rect x="318.26" y="381.81" width="6.17" height="35.31" fill="#fff884"/><rect x="324.12" y="381.42" width="6.17" height="36.30" fill="#fff884"/><rect x="330.00" y="381.02" width="6.17" height="37.30" fill="#fff884"/><rect x="335.87" y="380.62" width="6.17" height="38.31" fill="#fff884"/><rect x="341.74" y="380.21" width="6.17" height="39.35" fill="#fff884"/><rect x="347.61" y="379.80" width="6.17" height="40.41" fill="#fff884"/><rect x="353.48" y="379.39" width="6.17" height="41.48" fill="#fff884"/><rect x="359.35" y="378.97" width="6.17" height="42.57" fill="#fff884"/><rect x="71.72" y="395.45" width="6.17" height="4.56" fill="#93f993"/><rect x="77.58" y="395.41" width="6.17" height="4.64" fill="#93f993"/><rect x="83.45" y="395.37" width="6.17" height="4.73" fill="#93f993"/><rect x="89.33" y="395.32" width="6.17" height="4.83" fill="#93f993"/><rect x="95.19" y="395.27" width="6.17" height="4.94" fill="#93f993"/><rect x="101.06" y="395.21" width="6.17" height="5.06" fill="#93f993"/><rect x="106.94" y="395.14" width="6.17" height="5.19" fill="#93f993"/><rect x="112.80" y="395.07" width="6.17" height="5.33" fill="#93f993"/><rect x="118.67" y="395.00" width="6.17" height="5.49" fill="#93f993"/><rect x="124.54" y="394.92" width="6.17" height="5.65" fill="#93f993"/><rect x="130.41" y="394.83" width="6.17" height="5.83" fill="#93f993"/><rect x="136.29" y="394.74" width="6.17" height="6.01" fill="#93f993"/><rect x="142.16" y="394.65" width="6.17" height="6.21" fill="#93f993"/><rect x="148.03" y="394.55" width="6.17" height="6.42" fill="#93f993"/><rect x="153.89" y="394.44" width="6.17" height="6.64" fill="#93f993"/><rect x="159.76" y="394.33" width="6.17" height="6.87" fill="#93f993"/><rect x="165.64" y="394.22" width="6.17" height="7.11" fill="#93f993"/><rect x="171.51" y="394.09" width="6.17" height="7.37" fill="#93f993"/><rect x="177.38" y="393.97" width="6.17" height="7.63" fill="#93f993"/><rect x="183.25" y="393.84" width="6.17" height="7.91" fill="#93f993"/><rect x="189.12" y="393.70" width="6.17" height="8.19" fill="#93f993"/><rect x="194.99" y="393.56" width="6.17" height="8.49" fill="#93f993"/><rect x="200.86" y="393.41" width="6.17" height="8.80" fill="#93f993"/><rect x="206.73" y="393.26" width="6.17" height="9.12" fill="#93f993"/><rect x="212.60" y="393.10" width="6.17" height="9.45" fill="#93f993"/><rect x="218.47" y="392.94" width="6.17" height="9.79" fill="#93f993"/><rect x="224.34" y="392.78" width="6.17" height="10.14" fill="#93f993"/><rect x="230.21" y="392.61" width="6.17" height="10.50" fill="#93f993"/><rect x="236.07" y="392.43" width="6.17" height="10.88" fill="#93f993"/><rect x="241.94" y="392.25" width="6.17" height="11.26" fill="#93f993"/><rect x="247.81" y="392.06" width="6.17" height="11.66" fill="#93f993"/><rect x="253.69" y="391.87" width="6.17" height="12.07" fill="#93f993"/><rect x="259.56" y="391.68" width="6.17" height="12.49" fill="#93f993"/><rect x="265.43" y="391.48" width="6.17" height="12.92" fill="#93f993"/><rect x="271.30" y="391.28" width="6.17" height="13.36" fill="#93f993"/><rect x="277.17" y="391.07" width="6.17" height="13.81" fill="#93f993"/><rect x="283.04" y="390.85" width="6.17" height="14.27" fill="#93f993"/><rect x="288.91" y="390.64" width="6.17" height="14.75" fill="#93f993"/><rect x="294.78" y="390.41" width="6.17" height="15.23" fill="#93f993"/><rect x="300.65" y="390.19" width="6.17" height="15.73" fill="#93f993"/><rect x="306.52" y="389.96" width="6.17" height="16.24" fill="#93f993"/><rect x="312.38" y="389.72" width="6.17" height="16.76" fill="#93f993"/><rect x="318.26" y="389.48" width="6.17" height="17.29" fill="#93f993"/><rect x="324.12" y="389.24" width="6.17" height="17.83" fill="#93f993"/><rect x="330.00" y="388.99" width="6.17" height="18.39" fill="#93f993"/><rect x="335.87" y="388.73" width="6.17" height="18.95" fill="#93f993"/><rect x="341.74" y="388.48" width="6.17" height="19.53" fill="#93f993"/><rect x="347.61" y="388.22" width="6.17" height="20.12" fill="#93f993"/><rect x="353.48" y="387.95" width="6.17" height="20.72" fill="#93f993"/><rect x="359.35" y="387.68" width="6.17" height="21.33" fill="#93f993"/></g>
<line x1="45.6" y1="397.7" x2="371.2" y2="397.7" stroke="#000" stroke-width="1.1"/>
<path d="M74.65,387.68V389.72M80.52,388.98V391.02M86.39,394.37V396.43M92.26,397.96V400.04M98.13,398.95V401.05M104.00,399.94V402.06M109.87,399.92V402.08M115.74,399.39V401.61M121.61,399.87V402.13M127.48,399.34V401.66M133.35,399.30V401.70M139.22,398.27V400.73M145.09,397.73V400.27M150.96,397.18V399.82M156.83,397.13V399.87M162.70,397.18V400.02M168.57,396.13V399.07M174.44,390.27V393.33M180.31,392.11V395.29M186.18,401.84V405.16M192.05,385.77V389.23M197.92,390.00V393.60M203.79,394.72V398.48M209.66,399.54V403.46M215.53,397.66V401.74M221.40,395.57V399.83M227.27,394.38V398.82M233.14,398.59V403.21M239.01,401.69V406.51M244.88,397.99V403.01M250.75,388.19V393.41M256.62,388.08V393.52M262.49,401.97V407.63M268.36,397.55V403.45M274.23,397.73V403.87M280.10,399.31V405.69M285.97,405.99V412.61M284.67,405.99h2.6M284.67,412.61h2.6M291.84,407.46V414.34M290.54,407.46h2.6M290.54,414.34h2.6M297.71,409.02V416.18M296.41,409.02h2.6M296.41,416.18h2.6M303.58,408.09V415.51M302.28,408.09h2.6M302.28,415.51h2.6M309.45,407.35V415.05M308.15,407.35h2.6M308.15,415.05h2.6M315.32,402.80V410.80M314.02,402.80h2.6M314.02,410.80h2.6M321.19,409.36V417.64M319.89,409.36h2.6M319.89,417.64h2.6M327.06,402.51V411.09M325.76,402.51h2.6M325.76,411.09h2.6M332.93,404.25V413.15M331.63,404.25h2.6M331.63,413.15h2.6M338.80,405.70V414.90M337.50,405.70h2.6M337.50,414.90h2.6M344.67,413.53V423.07M343.37,413.53h2.6M343.37,423.07h2.6M350.54,428.07V437.93M349.24,428.07h2.6M349.24,437.93h2.6M356.41,418.50V428.70M355.11,418.50h2.6M355.11,428.70h2.6M362.28,412.23V422.77M360.98,412.23h2.6M360.98,422.77h2.6" stroke="#3f9a22" stroke-width="1" fill="none"/>
<path d="M74.65,390.22V392.38M80.52,390.72V392.88M86.39,391.71V393.89M92.26,391.20V393.40M98.13,391.69V393.91M104.00,393.17V395.43M109.87,393.45V395.75M115.74,394.03V396.37M121.61,397.00V399.40M127.48,397.77V400.23M133.35,398.53V401.07M139.22,402.99V405.61M145.09,405.25V407.95M150.96,406.80V409.60M156.83,404.05V406.95M162.70,406.50V409.50M168.57,411.14V414.26M174.44,401.88V405.12M180.31,406.71V410.09M186.18,415.34V418.86M192.05,400.67V404.33M197.92,404.89V408.71M203.79,410.71V414.69M209.66,413.93V418.07M215.53,411.34V415.66M221.40,409.75V414.25M227.27,410.35V415.05M233.14,410.25V415.15M239.01,411.85V416.95M244.88,413.24V418.56M250.75,402.43V407.97M256.62,407.72V413.48M262.49,416.80V422.80M268.36,416.68V422.92M274.23,411.75V418.25M272.93,411.75h2.6M272.93,418.25h2.6M280.10,411.82V418.58M278.80,411.82h2.6M278.80,418.58h2.6M285.97,421.09V428.11M284.67,421.09h2.6M284.67,428.11h2.6M291.84,419.15V426.45M290.54,419.15h2.6M290.54,426.45h2.6M297.71,419.81V427.39M296.41,419.81h2.6M296.41,427.39h2.6M303.58,417.37V425.23M302.28,417.37h2.6M302.28,425.23h2.6M309.45,417.22V425.38M308.15,417.22h2.6M308.15,425.38h2.6M315.32,412.17V420.63M314.02,412.17h2.6M314.02,420.63h2.6M321.19,417.71V426.49M319.89,417.71h2.6M319.89,426.49h2.6M327.06,411.85V420.95M325.76,411.85h2.6M325.76,420.95h2.6M332.93,412.29V421.71M331.63,412.29h2.6M331.63,421.71h2.6M338.80,418.32V428.08M337.50,418.32h2.6M337.50,428.08h2.6M344.67,425.85V435.95M343.37,425.85h2.6M343.37,435.95h2.6M350.54,431.38V441.82M349.24,431.38h2.6M349.24,441.82h2.6M356.41,419.20V430.00M355.11,419.20h2.6M355.11,430.00h2.6M362.28,420.92V432.08M360.98,420.92h2.6M360.98,432.08h2.6" stroke="#a5102a" stroke-width="1" fill="none"/>
<path d="M74.65,385.00V387.40M80.52,386.00V388.40M86.39,388.59V391.01M92.26,393.58V396.02M98.13,395.67V398.13M104.00,399.15V401.65M109.87,398.73V401.27M115.74,398.50V401.10M121.61,400.67V403.33M127.48,399.13V401.87M133.35,400.59V403.41M139.22,400.55V403.45M145.09,402.40V405.40M150.96,402.75V405.85M156.83,401.19V404.41M162.70,402.93V406.27M168.57,404.67V408.13M174.44,399.20V402.80M180.31,403.53V407.27M186.18,409.95V413.85M192.05,396.57V400.63M197.92,401.38V405.62M203.79,408.09V412.51M209.66,414.50V419.10M215.53,412.50V417.30M221.40,414.50V419.50M227.27,412.29V417.51M233.14,418.58V424.02M239.01,425.97V431.63M244.88,419.85V425.75M250.75,412.83V418.97M256.62,417.00V423.40M255.32,417.00h2.6M255.32,423.40h2.6M262.49,425.87V432.53M261.19,425.87h2.6M261.19,432.53h2.6M268.36,425.73V432.67M267.06,425.73h2.6M267.06,432.67h2.6M274.23,425.79V433.01M272.93,425.79h2.6M272.93,433.01h2.6M280.10,425.85V433.35M278.80,425.85h2.6M278.80,433.35h2.6M285.97,434.90V442.70M284.67,434.90h2.6M284.67,442.70h2.6M291.84,434.75V442.85M290.54,434.75h2.6M290.54,442.85h2.6M297.71,430.89V439.31M296.41,430.89h2.6M296.41,439.31h2.6M303.58,434.13V442.87M302.28,434.13h2.6M302.28,442.87h2.6M309.45,433.37V442.43M308.15,433.37h2.6M308.15,442.43h2.6M315.32,428.10V437.50M314.02,428.10h2.6M314.02,437.50h2.6M321.19,432.63V442.37M319.89,432.63h2.6M319.89,442.37h2.6M327.06,442.15V452.25M325.76,442.15h2.6M325.76,452.25h2.6M332.93,434.07V444.53M331.63,434.07h2.6M331.63,444.53h2.6M338.80,440.58V451.42M337.50,440.58h2.6M337.50,451.42h2.6M344.67,445.39V456.61M343.37,445.39h2.6M343.37,456.61h2.6M350.54,469.70V481.30M349.24,469.70h2.6M349.24,481.30h2.6M356.41,436.80V448.80M355.11,436.80h2.6M355.11,448.80h2.6M362.28,445.20V457.60M360.98,445.20h2.6M360.98,457.60h2.6" stroke="#0000ee" stroke-width="1" fill="none"/>
<path d="M74.65,402.14V403.86M80.52,402.83V404.57M86.39,405.13V406.87M92.26,406.92V408.68M98.13,406.21V407.99M104.00,407.70V409.50M109.87,406.58V408.42M115.74,405.66V407.54M121.61,405.64V407.56M127.48,402.91V404.89M133.35,400.99V403.01M139.22,397.95V400.05M145.09,396.82V398.98M150.96,397.58V399.82M156.83,392.54V394.86M162.70,390.20V392.60M168.57,389.95V392.45M174.44,377.80V380.40M180.31,379.65V382.35M186.18,386.09V388.91M192.05,366.84V369.76M197.92,363.87V366.93M203.79,373.61V376.79M209.66,370.54V373.86M215.53,366.57V370.03M221.40,356.60V360.20M227.27,361.82V365.58M233.14,357.44V361.36M239.01,356.56V360.64M244.88,349.98V354.22M250.75,341.09V345.51M256.62,346.00V350.60M262.49,355.10V359.90M268.36,343.60V348.60M274.23,338.60V343.80M280.10,337.60V343.00M285.97,338.79V344.41M291.84,345.48V351.32M297.71,339.77V345.83M303.58,340.96V347.24M309.45,329.94V336.46M308.15,329.94h2.6M308.15,336.46h2.6M315.32,339.12V345.88M314.02,339.12h2.6M314.02,345.88h2.6M321.19,329.09V336.11M319.89,329.09h2.6M319.89,336.11h2.6M327.06,319.86V327.14M325.76,319.86h2.6M325.76,327.14h2.6M332.93,319.53V327.07M331.63,319.53h2.6M331.63,327.07h2.6M338.80,323.20V331.00M337.50,323.20h2.6M337.50,331.00h2.6M344.67,332.56V340.64M343.37,332.56h2.6M343.37,340.64h2.6M350.54,340.72V349.08M349.24,340.72h2.6M349.24,349.08h2.6M356.41,326.68V335.32M355.11,326.68h2.6M355.11,335.32h2.6M362.28,324.24V333.16M360.98,324.24h2.6M360.98,333.16h2.6" stroke="#ff0000" stroke-width="1" fill="none"/>
<polyline points="74.65,388.70 80.52,390.00 86.39,395.40 92.26,399.00 98.13,400.00 104.00,401.00 109.87,401.00 115.74,400.50 121.61,401.00 127.48,400.50 133.35,400.50 139.22,399.50 145.09,399.00 150.96,398.50 156.83,398.50 162.70,398.60 168.57,397.60 174.44,391.80 180.31,393.70 186.18,403.50 192.05,387.50 197.92,391.80 203.79,396.60 209.66,401.50 215.53,399.70 221.40,397.70 227.27,396.60 233.14,400.90 239.01,404.10 244.88,400.50 250.75,390.80 256.62,390.80 262.49,404.80 268.36,400.50 274.23,400.80 280.10,402.50 285.97,409.30 291.84,410.90 297.71,412.60 303.58,411.80 309.45,411.20 315.32,406.80 321.19,413.50 327.06,406.80 332.93,408.70 338.80,410.30 344.67,418.30 350.54,433.00 356.41,423.60 362.28,417.50" fill="none" stroke="#3f9a22" stroke-width="1.0" stroke-dasharray="2.5,1.8"/>
<rect x="72.40" y="386.45" width="4.50" height="4.50" fill="none" stroke="#3f9a22" stroke-width="1.3"/>
<rect x="78.27" y="387.75" width="4.50" height="4.50" fill="none" stroke="#3f9a22" stroke-width="1.3"/>
<rect x="84.14" y="393.15" width="4.50" height="4.50" fill="none" stroke="#3f9a22" stroke-width="1.3"/>
<rect x="90.01" y="396.75" width="4.50" height="4.50" fill="none" stroke="#3f9a22" stroke-width="1.3"/>
<rect x="95.88" y="397.75" width="4.50" height="4.50" fill="none" stroke="#3f9a22" stroke-width="1.3"/>
<rect x="101.75" y="398.75" width="4.50" height="4.50" fill="none" stroke="#3f9a22" stroke-width="1.3"/>
<rect x="107.62" y="398.75" width="4.50" height="4.50" fill="none" stroke="#3f9a22" stroke-width="1.3"/>
<rect x="113.49" y="398.25" width="4.50" height="4.50" fill="none" stroke="#3f9a22" stroke-width="1.3"/>
<rect x="119.36" y="398.75" width="4.50" height="4.50" fill="none" stroke="#3f9a22" stroke-width="1.3"/>
<rect x="125.23" y="398.25" width="4.50" height="4.50" fill="none" stroke="#3f9a22" stroke-width="1.3"/>
<rect x="131.10" y="398.25" width="4.50" height="4.50" fill="none" stroke="#3f9a22" stroke-width="1.3"/>
<rect x="136.97" y="397.25" width="4.50" height="4.50" fill="none" stroke="#3f9a22" stroke-width="1.3"/>
<rect x="142.84" y="396.75" width="4.50" height="4.50" fill="none" stroke="#3f9a22" stroke-width="1.3"/>
<rect x="148.71" y="396.25" width="4.50" height="4.50" fill="none" stroke="#3f9a22" stroke-width="1.3"/>
<rect x="154.58" y="396.25" width="4.50" height="4.50" fill="none" stroke="#3f9a22" stroke-width="1.3"/>
<rect x="160.45" y="396.35" width="4.50" height="4.50" fill="none" stroke="#3f9a22" stroke-width="1.3"/>
<rect x="166.32" y="395.35" width="4.50" height="4.50" fill="none" stroke="#3f9a22" stroke-width="1.3"/>
<rect x="172.19" y="389.55" width="4.50" height="4.50" fill="none" stroke="#3f9a22" stroke-width="1.3"/>
<rect x="178.06" y="391.45" width="4.50" height="4.50" fill="none" stroke="#3f9a22" stroke-width="1.3"/>
<rect x="183.93" y="401.25" width="4.50" height="4.50" fill="none" stroke="#3f9a22" stroke-width="1.3"/>
<rect x="189.80" y="385.25" width="4.50" height="4.50" fill="none" stroke="#3f9a22" stroke-width="1.3"/>
<rect x="195.67" y="389.55" width="4.50" height="4.50" fill="none" stroke="#3f9a22" stroke-width="1.3"/>
<rect x="201.54" y="394.35" width="4.50" height="4.50" fill="none" stroke="#3f9a22" stroke-width="1.3"/>
<rect x="207.41" y="399.25" width="4.50" height="4.50" fill="none" stroke="#3f9a22" stroke-width="1.3"/>
<rect x="213.28" y="397.45" width="4.50" height="4.50" fill="none" stroke="#3f9a22" stroke-width="1.3"/>
<rect x="219.15" y="395.45" width="4.50" height="4.50" fill="none" stroke="#3f9a22" stroke-width="1.3"/>
<rect x="225.02" y="394.35" width="4.50" height="4.50" fill="none" stroke="#3f9a22" stroke-width="1.3"/>
<rect x="230.89" y="398.65" width="4.50" height="4.50" fill="none" stroke="#3f9a22" stroke-width="1.3"/>
<rect x="236.76" y="401.85" width="4.50" height="4.50" fill="none" stroke="#3f9a22" stroke-width="1.3"/>
<rect x="242.63" y="398.25" width="4.50" height="4.50" fill="none" stroke="#3f9a22" stroke-width="1.3"/>
<rect x="248.50" y="388.55" width="4.50" height="4.50" fill="none" stroke="#3f9a22" stroke-width="1.3"/>
<rect x="254.37" y="388.55" width="4.50" height="4.50" fill="none" stroke="#3f9a22" stroke-width="1.3"/>
<rect x="260.24" y="402.55" width="4.50" height="4.50" fill="none" stroke="#3f9a22" stroke-width="1.3"/>
<rect x="266.11" y="398.25" width="4.50" height="4.50" fill="none" stroke="#3f9a22" stroke-width="1.3"/>
<rect x="271.98" y="398.55" width="4.50" height="4.50" fill="none" stroke="#3f9a22" stroke-width="1.3"/>
<rect x="277.85" y="400.25" width="4.50" height="4.50" fill="none" stroke="#3f9a22" stroke-width="1.3"/>
<rect x="283.72" y="407.05" width="4.50" height="4.50" fill="none" stroke="#3f9a22" stroke-width="1.3"/>
<rect x="289.59" y="408.65" width="4.50" height="4.50" fill="none" stroke="#3f9a22" stroke-width="1.3"/>
<rect x="295.46" y="410.35" width="4.50" height="4.50" fill="none" stroke="#3f9a22" stroke-width="1.3"/>
<rect x="301.33" y="409.55" width="4.50" height="4.50" fill="none" stroke="#3f9a22" stroke-width="1.3"/>
<rect x="307.20" y="408.95" width="4.50" height="4.50" fill="none" stroke="#3f9a22" stroke-width="1.3"/>
<rect x="313.07" y="404.55" width="4.50" height="4.50" fill="none" stroke="#3f9a22" stroke-width="1.3"/>
<rect x="318.94" y="411.25" width="4.50" height="4.50" fill="none" stroke="#3f9a22" stroke-width="1.3"/>
<rect x="324.81" y="404.55" width="4.50" height="4.50" fill="none" stroke="#3f9a22" stroke-width="1.3"/>
<rect x="330.68" y="406.45" width="4.50" height="4.50" fill="none" stroke="#3f9a22" stroke-width="1.3"/>
<rect x="336.55" y="408.05" width="4.50" height="4.50" fill="none" stroke="#3f9a22" stroke-width="1.3"/>
<rect x="342.42" y="416.05" width="4.50" height="4.50" fill="none" stroke="#3f9a22" stroke-width="1.3"/>
<rect x="348.29" y="430.75" width="4.50" height="4.50" fill="none" stroke="#3f9a22" stroke-width="1.3"/>
<rect x="354.16" y="421.35" width="4.50" height="4.50" fill="none" stroke="#3f9a22" stroke-width="1.3"/>
<rect x="360.03" y="415.25" width="4.50" height="4.50" fill="none" stroke="#3f9a22" stroke-width="1.3"/>
<polyline points="74.65,391.30 80.52,391.80 86.39,392.80 92.26,392.30 98.13,392.80 104.00,394.30 109.87,394.60 115.74,395.20 121.61,398.20 127.48,399.00 133.35,399.80 139.22,404.30 145.09,406.60 150.96,408.20 156.83,405.50 162.70,408.00 168.57,412.70 174.44,403.50 180.31,408.40 186.18,417.10 192.05,402.50 197.92,406.80 203.79,412.70 209.66,416.00 215.53,413.50 221.40,412.00 227.27,412.70 233.14,412.70 239.01,414.40 244.88,415.90 250.75,405.20 256.62,410.60 262.49,419.80 268.36,419.80 274.23,415.00 280.10,415.20 285.97,424.60 291.84,422.80 297.71,423.60 303.58,421.30 309.45,421.30 315.32,416.40 321.19,422.10 327.06,416.40 332.93,417.00 338.80,423.20 344.67,430.90 350.54,436.60 356.41,424.60 362.28,426.50" fill="none" stroke="#a5102a" stroke-width="1.2"/>
<polygon points="71.75,394.06 77.55,394.06 74.65,388.25" fill="none" stroke="#a5102a" stroke-width="1.35"/>
<polygon points="77.62,394.56 83.42,394.56 80.52,388.75" fill="none" stroke="#a5102a" stroke-width="1.35"/>
<polygon points="83.49,395.56 89.29,395.56 86.39,389.75" fill="none" stroke="#a5102a" stroke-width="1.35"/>
<polygon points="89.36,395.06 95.16,395.06 92.26,389.25" fill="none" stroke="#a5102a" stroke-width="1.35"/>
<polygon points="95.23,395.56 101.03,395.56 98.13,389.75" fill="none" stroke="#a5102a" stroke-width="1.35"/>
<polygon points="101.10,397.06 106.90,397.06 104.00,391.25" fill="none" stroke="#a5102a" stroke-width="1.35"/>
<polygon points="106.97,397.36 112.77,397.36 109.87,391.56" fill="none" stroke="#a5102a" stroke-width="1.35"/>
<polygon points="112.84,397.95 118.64,397.95 115.74,392.15" fill="none" stroke="#a5102a" stroke-width="1.35"/>
<polygon points="118.71,400.95 124.51,400.95 121.61,395.15" fill="none" stroke="#a5102a" stroke-width="1.35"/>
<polygon points="124.58,401.75 130.38,401.75 127.48,395.95" fill="none" stroke="#a5102a" stroke-width="1.35"/>
<polygon points="130.45,402.56 136.25,402.56 133.35,396.75" fill="none" stroke="#a5102a" stroke-width="1.35"/>
<polygon points="136.32,407.06 142.12,407.06 139.22,401.25" fill="none" stroke="#a5102a" stroke-width="1.35"/>
<polygon points="142.19,409.36 147.99,409.36 145.09,403.56" fill="none" stroke="#a5102a" stroke-width="1.35"/>
<polygon points="148.06,410.95 153.86,410.95 150.96,405.15" fill="none" stroke="#a5102a" stroke-width="1.35"/>
<polygon points="153.93,408.25 159.73,408.25 156.83,402.45" fill="none" stroke="#a5102a" stroke-width="1.35"/>
<polygon points="159.80,410.75 165.60,410.75 162.70,404.95" fill="none" stroke="#a5102a" stroke-width="1.35"/>
<polygon points="165.67,415.45 171.47,415.45 168.57,409.65" fill="none" stroke="#a5102a" stroke-width="1.35"/>
<polygon points="171.54,406.25 177.34,406.25 174.44,400.45" fill="none" stroke="#a5102a" stroke-width="1.35"/>
<polygon points="177.41,411.15 183.21,411.15 180.31,405.35" fill="none" stroke="#a5102a" stroke-width="1.35"/>
<polygon points="183.28,419.86 189.08,419.86 186.18,414.06" fill="none" stroke="#a5102a" stroke-width="1.35"/>
<polygon points="189.15,405.25 194.95,405.25 192.05,399.45" fill="none" stroke="#a5102a" stroke-width="1.35"/>
<polygon points="195.02,409.56 200.82,409.56 197.92,403.75" fill="none" stroke="#a5102a" stroke-width="1.35"/>
<polygon points="200.89,415.45 206.69,415.45 203.79,409.65" fill="none" stroke="#a5102a" stroke-width="1.35"/>
<polygon points="206.76,418.75 212.56,418.75 209.66,412.95" fill="none" stroke="#a5102a" stroke-width="1.35"/>
<polygon points="212.63,416.25 218.43,416.25 215.53,410.45" fill="none" stroke="#a5102a" stroke-width="1.35"/>
<polygon points="218.50,414.75 224.30,414.75 221.40,408.95" fill="none" stroke="#a5102a" stroke-width="1.35"/>
<polygon points="224.37,415.45 230.17,415.45 227.27,409.65" fill="none" stroke="#a5102a" stroke-width="1.35"/>
<polygon points="230.24,415.45 236.04,415.45 233.14,409.65" fill="none" stroke="#a5102a" stroke-width="1.35"/>
<polygon points="236.11,417.15 241.91,417.15 239.01,411.35" fill="none" stroke="#a5102a" stroke-width="1.35"/>
<polygon points="241.98,418.65 247.78,418.65 244.88,412.85" fill="none" stroke="#a5102a" stroke-width="1.35"/>
<polygon points="247.85,407.95 253.65,407.95 250.75,402.15" fill="none" stroke="#a5102a" stroke-width="1.35"/>
<polygon points="253.72,413.36 259.52,413.36 256.62,407.56" fill="none" stroke="#a5102a" stroke-width="1.35"/>
<polygon points="259.59,422.56 265.39,422.56 262.49,416.75" fill="none" stroke="#a5102a" stroke-width="1.35"/>
<polygon points="265.46,422.56 271.26,422.56 268.36,416.75" fill="none" stroke="#a5102a" stroke-width="1.35"/>
<polygon points="271.33,417.75 277.13,417.75 274.23,411.95" fill="none" stroke="#a5102a" stroke-width="1.35"/>
<polygon points="277.20,417.95 283.00,417.95 280.10,412.15" fill="none" stroke="#a5102a" stroke-width="1.35"/>
<polygon points="283.07,427.36 288.87,427.36 285.97,421.56" fill="none" stroke="#a5102a" stroke-width="1.35"/>
<polygon points="288.94,425.56 294.74,425.56 291.84,419.75" fill="none" stroke="#a5102a" stroke-width="1.35"/>
<polygon points="294.81,426.36 300.61,426.36 297.71,420.56" fill="none" stroke="#a5102a" stroke-width="1.35"/>
<polygon points="300.68,424.06 306.48,424.06 303.58,418.25" fill="none" stroke="#a5102a" stroke-width="1.35"/>
<polygon points="306.55,424.06 312.35,424.06 309.45,418.25" fill="none" stroke="#a5102a" stroke-width="1.35"/>
<polygon points="312.42,419.15 318.22,419.15 315.32,413.35" fill="none" stroke="#a5102a" stroke-width="1.35"/>
<polygon points="318.29,424.86 324.09,424.86 321.19,419.06" fill="none" stroke="#a5102a" stroke-width="1.35"/>
<polygon points="324.16,419.15 329.96,419.15 327.06,413.35" fill="none" stroke="#a5102a" stroke-width="1.35"/>
<polygon points="330.03,419.75 335.83,419.75 332.93,413.95" fill="none" stroke="#a5102a" stroke-width="1.35"/>
<polygon points="335.90,425.95 341.70,425.95 338.80,420.15" fill="none" stroke="#a5102a" stroke-width="1.35"/>
<polygon points="341.77,433.65 347.57,433.65 344.67,427.85" fill="none" stroke="#a5102a" stroke-width="1.35"/>
<polygon points="347.64,439.36 353.44,439.36 350.54,433.56" fill="none" stroke="#a5102a" stroke-width="1.35"/>
<polygon points="353.51,427.36 359.31,427.36 356.41,421.56" fill="none" stroke="#a5102a" stroke-width="1.35"/>
<polygon points="359.38,429.25 365.18,429.25 362.28,423.45" fill="none" stroke="#a5102a" stroke-width="1.35"/>
<polyline points="74.65,386.20 80.52,387.20 86.39,389.80 92.26,394.80 98.13,396.90 104.00,400.40 109.87,400.00 115.74,399.80 121.61,402.00 127.48,400.50 133.35,402.00 139.22,402.00 145.09,403.90 150.96,404.30 156.83,402.80 162.70,404.60 168.57,406.40 174.44,401.00 180.31,405.40 186.18,411.90 192.05,398.60 197.92,403.50 203.79,410.30 209.66,416.80 215.53,414.90 221.40,417.00 227.27,414.90 233.14,421.30 239.01,428.80 244.88,422.80 250.75,415.90 256.62,420.20 262.49,429.20 268.36,429.20 274.23,429.40 280.10,429.60 285.97,438.80 291.84,438.80 297.71,435.10 303.58,438.50 309.45,437.90 315.32,432.80 321.19,437.50 327.06,447.20 332.93,439.30 338.80,446.00 344.67,451.00 350.54,475.50 356.41,442.80 362.28,451.40" fill="none" stroke="#0000ee" stroke-width="1.3"/>
<polygon points="71.85,388.86 77.45,388.86 74.65,383.26" fill="#0000ee"/>
<polygon points="77.72,389.86 83.32,389.86 80.52,384.26" fill="#0000ee"/>
<polygon points="83.59,392.46 89.19,392.46 86.39,386.86" fill="#0000ee"/>
<polygon points="89.46,397.46 95.06,397.46 92.26,391.86" fill="#0000ee"/>
<polygon points="95.33,399.56 100.93,399.56 98.13,393.96" fill="#0000ee"/>
<polygon points="101.20,403.06 106.80,403.06 104.00,397.46" fill="#0000ee"/>
<polygon points="107.07,402.66 112.67,402.66 109.87,397.06" fill="#0000ee"/>
<polygon points="112.94,402.46 118.54,402.46 115.74,396.86" fill="#0000ee"/>
<polygon points="118.81,404.66 124.41,404.66 121.61,399.06" fill="#0000ee"/>
<polygon points="124.68,403.16 130.28,403.16 127.48,397.56" fill="#0000ee"/>
<polygon points="130.55,404.66 136.15,404.66 133.35,399.06" fill="#0000ee"/>
<polygon points="136.42,404.66 142.02,404.66 139.22,399.06" fill="#0000ee"/>
<polygon points="142.29,406.56 147.89,406.56 145.09,400.96" fill="#0000ee"/>
<polygon points="148.16,406.96 153.76,406.96 150.96,401.36" fill="#0000ee"/>
<polygon points="154.03,405.46 159.63,405.46 156.83,399.86" fill="#0000ee"/>
<polygon points="159.90,407.26 165.50,407.26 162.70,401.66" fill="#0000ee"/>
<polygon points="165.77,409.06 171.37,409.06 168.57,403.46" fill="#0000ee"/>
<polygon points="171.64,403.66 177.24,403.66 174.44,398.06" fill="#0000ee"/>
<polygon points="177.51,408.06 183.11,408.06 180.31,402.46" fill="#0000ee"/>
<polygon points="183.38,414.56 188.98,414.56 186.18,408.96" fill="#0000ee"/>
<polygon points="189.25,401.26 194.85,401.26 192.05,395.66" fill="#0000ee"/>
<polygon points="195.12,406.16 200.72,406.16 197.92,400.56" fill="#0000ee"/>
<polygon points="200.99,412.96 206.59,412.96 203.79,407.36" fill="#0000ee"/>
<polygon points="206.86,419.46 212.46,419.46 209.66,413.86" fill="#0000ee"/>
<polygon points="212.73,417.56 218.33,417.56 215.53,411.96" fill="#0000ee"/>
<polygon points="218.60,419.66 224.20,419.66 221.40,414.06" fill="#0000ee"/>
<polygon points="224.47,417.56 230.07,417.56 227.27,411.96" fill="#0000ee"/>
<polygon points="230.34,423.96 235.94,423.96 233.14,418.36" fill="#0000ee"/>
<polygon points="236.21,431.46 241.81,431.46 239.01,425.86" fill="#0000ee"/>
<polygon points="242.08,425.46 247.68,425.46 244.88,419.86" fill="#0000ee"/>
<polygon points="247.95,418.56 253.55,418.56 250.75,412.96" fill="#0000ee"/>
<polygon points="253.82,422.86 259.42,422.86 256.62,417.26" fill="#0000ee"/>
<polygon points="259.69,431.86 265.29,431.86 262.49,426.26" fill="#0000ee"/>
<polygon points="265.56,431.86 271.16,431.86 268.36,426.26" fill="#0000ee"/>
<polygon points="271.43,432.06 277.03,432.06 274.23,426.46" fill="#0000ee"/>
<polygon points="277.30,432.26 282.90,432.26 280.10,426.66" fill="#0000ee"/>
<polygon points="283.17,441.46 288.77,441.46 285.97,435.86" fill="#0000ee"/>
<polygon points="289.04,441.46 294.64,441.46 291.84,435.86" fill="#0000ee"/>
<polygon points="294.91,437.76 300.51,437.76 297.71,432.16" fill="#0000ee"/>
<polygon points="300.78,441.16 306.38,441.16 303.58,435.56" fill="#0000ee"/>
<polygon points="306.65,440.56 312.25,440.56 309.45,434.96" fill="#0000ee"/>
<polygon points="312.52,435.46 318.12,435.46 315.32,429.86" fill="#0000ee"/>
<polygon points="318.39,440.16 323.99,440.16 321.19,434.56" fill="#0000ee"/>
<polygon points="324.26,449.86 329.86,449.86 327.06,444.26" fill="#0000ee"/>
<polygon points="330.13,441.96 335.73,441.96 332.93,436.36" fill="#0000ee"/>
<polygon points="336.00,448.66 341.60,448.66 338.80,443.06" fill="#0000ee"/>
<polygon points="341.87,453.66 347.47,453.66 344.67,448.06" fill="#0000ee"/>
<polygon points="347.74,478.16 353.34,478.16 350.54,472.56" fill="#0000ee"/>
<polygon points="353.61,445.46 359.21,445.46 356.41,439.86" fill="#0000ee"/>
<polygon points="359.48,454.06 365.08,454.06 362.28,448.46" fill="#0000ee"/>
<polyline points="74.65,403.00 80.52,403.70 86.39,406.00 92.26,407.80 98.13,407.10 104.00,408.60 109.87,407.50 115.74,406.60 121.61,406.60 127.48,403.90 133.35,402.00 139.22,399.00 145.09,397.90 150.96,398.70 156.83,393.70 162.70,391.40 168.57,391.20 174.44,379.10 180.31,381.00 186.18,387.50 192.05,368.30 197.92,365.40 203.79,375.20 209.66,372.20 215.53,368.30 221.40,358.40 227.27,363.70 233.14,359.40 239.01,358.60 244.88,352.10 250.75,343.30 256.62,348.30 262.49,357.50 268.36,346.10 274.23,341.20 280.10,340.30 285.97,341.60 291.84,348.40 297.71,342.80 303.58,344.10 309.45,333.20 315.32,342.50 321.19,332.60 327.06,323.50 332.93,323.30 338.80,327.10 344.67,336.60 350.54,344.90 356.41,331.00 362.28,328.70" fill="none" stroke="#ff0000" stroke-width="1.0" stroke-dasharray="1,1.5"/>
<polygon points="74.65,399.95 76.80,403.00 74.65,406.05 72.50,403.00" fill="#ff0000"/>
<polygon points="80.52,400.65 82.67,403.70 80.52,406.75 78.37,403.70" fill="#ff0000"/>
<polygon points="86.39,402.95 88.54,406.00 86.39,409.05 84.24,406.00" fill="#ff0000"/>
<polygon points="92.26,404.75 94.41,407.80 92.26,410.85 90.11,407.80" fill="#ff0000"/>
<polygon points="98.13,404.05 100.28,407.10 98.13,410.15 95.98,407.10" fill="#ff0000"/>
<polygon points="104.00,405.55 106.15,408.60 104.00,411.65 101.85,408.60" fill="#ff0000"/>
<polygon points="109.87,404.45 112.02,407.50 109.87,410.55 107.72,407.50" fill="#ff0000"/>
<polygon points="115.74,403.55 117.89,406.60 115.74,409.65 113.59,406.60" fill="#ff0000"/>
<polygon points="121.61,403.55 123.76,406.60 121.61,409.65 119.46,406.60" fill="#ff0000"/>
<polygon points="127.48,400.85 129.63,403.90 127.48,406.95 125.33,403.90" fill="#ff0000"/>
<polygon points="133.35,398.95 135.50,402.00 133.35,405.05 131.20,402.00" fill="#ff0000"/>
<polygon points="139.22,395.95 141.37,399.00 139.22,402.05 137.07,399.00" fill="#ff0000"/>
<polygon points="145.09,394.85 147.24,397.90 145.09,400.95 142.94,397.90" fill="#ff0000"/>
<polygon points="150.96,395.65 153.11,398.70 150.96,401.75 148.81,398.70" fill="#ff0000"/>
<polygon points="156.83,390.65 158.98,393.70 156.83,396.75 154.68,393.70" fill="#ff0000"/>
<polygon points="162.70,388.35 164.85,391.40 162.70,394.45 160.55,391.40" fill="#ff0000"/>
<polygon points="168.57,388.15 170.72,391.20 168.57,394.25 166.42,391.20" fill="#ff0000"/>
<polygon points="174.44,376.05 176.59,379.10 174.44,382.15 172.29,379.10" fill="#ff0000"/>
<polygon points="180.31,377.95 182.46,381.00 180.31,384.05 178.16,381.00" fill="#ff0000"/>
<polygon points="186.18,384.45 188.33,387.50 186.18,390.55 184.03,387.50" fill="#ff0000"/>
<polygon points="192.05,365.25 194.20,368.30 192.05,371.35 189.90,368.30" fill="#ff0000"/>
<polygon points="197.92,362.35 200.07,365.40 197.92,368.45 195.77,365.40" fill="#ff0000"/>
<polygon points="203.79,372.15 205.94,375.20 203.79,378.25 201.64,375.20" fill="#ff0000"/>
<polygon points="209.66,369.15 211.81,372.20 209.66,375.25 207.51,372.20" fill="#ff0000"/>
<polygon points="215.53,365.25 217.68,368.30 215.53,371.35 213.38,368.30" fill="#ff0000"/>
<polygon points="221.40,355.35 223.55,358.40 221.40,361.45 219.25,358.40" fill="#ff0000"/>
<polygon points="227.27,360.65 229.42,363.70 227.27,366.75 225.12,363.70" fill="#ff0000"/>
<polygon points="233.14,356.35 235.29,359.40 233.14,362.45 230.99,359.40" fill="#ff0000"/>
<polygon points="239.01,355.55 241.16,358.60 239.01,361.65 236.86,358.60" fill="#ff0000"/>
<polygon points="244.88,349.05 247.03,352.10 244.88,355.15 242.73,352.10" fill="#ff0000"/>
<polygon points="250.75,340.25 252.90,343.30 250.75,346.35 248.60,343.30" fill="#ff0000"/>
<polygon points="256.62,345.25 258.77,348.30 256.62,351.35 254.47,348.30" fill="#ff0000"/>
<polygon points="262.49,354.45 264.64,357.50 262.49,360.55 260.34,357.50" fill="#ff0000"/>
<polygon points="268.36,343.05 270.51,346.10 268.36,349.15 266.21,346.10" fill="#ff0000"/>
<polygon points="274.23,338.15 276.38,341.20 274.23,344.25 272.08,341.20" fill="#ff0000"/>
<polygon points="280.10,337.25 282.25,340.30 280.10,343.35 277.95,340.30" fill="#ff0000"/>
<polygon points="285.97,338.55 288.12,341.60 285.97,344.65 283.82,341.60" fill="#ff0000"/>
<polygon points="291.84,345.35 293.99,348.40 291.84,351.45 289.69,348.40" fill="#ff0000"/>
<polygon points="297.71,339.75 299.86,342.80 297.71,345.85 295.56,342.80" fill="#ff0000"/>
<polygon points="303.58,341.05 305.73,344.10 303.58,347.15 301.43,344.10" fill="#ff0000"/>
<polygon points="309.45,330.15 311.60,333.20 309.45,336.25 307.30,333.20" fill="#ff0000"/>
<polygon points="315.32,339.45 317.47,342.50 315.32,345.55 313.17,342.50" fill="#ff0000"/>
<polygon points="321.19,329.55 323.34,332.60 321.19,335.65 319.04,332.60" fill="#ff0000"/>
<polygon points="327.06,320.45 329.21,323.50 327.06,326.55 324.91,323.50" fill="#ff0000"/>
<polygon points="332.93,320.25 335.08,323.30 332.93,326.35 330.78,323.30" fill="#ff0000"/>
<polygon points="338.80,324.05 340.95,327.10 338.80,330.15 336.65,327.10" fill="#ff0000"/>
<polygon points="344.67,333.55 346.82,336.60 344.67,339.65 342.52,336.60" fill="#ff0000"/>
<polygon points="350.54,341.85 352.69,344.90 350.54,347.95 348.39,344.90" fill="#ff0000"/>
<polygon points="356.41,327.95 358.56,331.00 356.41,334.05 354.26,331.00" fill="#ff0000"/>
<polygon points="362.28,325.65 364.43,328.70 362.28,331.75 360.13,328.70" fill="#ff0000"/>
</g>
<path d="M45.6,313.57h5.5M371.2,313.57h-5.5M45.6,308.77h5.5M371.2,308.77h-5.5M45.6,304.70h5.5M371.2,304.70h-5.5M45.6,301.18h5.5M371.2,301.18h-5.5M45.6,298.08h5.5M371.2,298.08h-5.5M45.6,295.30h11.3M371.2,295.30h-11.3M45.6,277.03h5.5M371.2,277.03h-5.5M45.6,266.34h5.5M371.2,266.34h-5.5M45.6,258.75h5.5M371.2,258.75h-5.5M45.6,252.87h5.5M371.2,252.87h-5.5M45.6,248.07h5.5M371.2,248.07h-5.5M45.6,244.00h5.5M371.2,244.00h-5.5M45.6,240.48h5.5M371.2,240.48h-5.5M45.6,237.38h5.5M371.2,237.38h-5.5M45.6,234.60h11.3M371.2,234.60h-11.3M45.6,216.33h5.5M371.2,216.33h-5.5M45.6,205.64h5.5M371.2,205.64h-5.5M45.6,198.05h5.5M371.2,198.05h-5.5M45.6,192.17h5.5M371.2,192.17h-5.5M45.6,187.37h5.5M371.2,187.37h-5.5M45.6,183.30h5.5M371.2,183.30h-5.5M45.6,179.78h5.5M371.2,179.78h-5.5M45.6,176.68h5.5M371.2,176.68h-5.5M45.6,173.90h11.3M371.2,173.90h-11.3M45.6,155.63h5.5M371.2,155.63h-5.5M45.6,144.94h5.5M371.2,144.94h-5.5M45.6,137.35h5.5M371.2,137.35h-5.5M45.6,131.47h5.5M371.2,131.47h-5.5M45.6,126.67h5.5M371.2,126.67h-5.5M45.6,122.60h5.5M371.2,122.60h-5.5M45.6,119.08h5.5M371.2,119.08h-5.5M45.6,115.98h5.5M371.2,115.98h-5.5M45.6,113.20h11.3M371.2,113.20h-11.3M45.6,94.93h5.5M371.2,94.93h-5.5M45.6,84.24h5.5M371.2,84.24h-5.5M45.6,76.65h5.5M371.2,76.65h-5.5M45.6,70.77h5.5M371.2,70.77h-5.5M45.6,65.97h5.5M371.2,65.97h-5.5M45.6,61.90h5.5M371.2,61.90h-5.5M45.6,58.38h5.5M371.2,58.38h-5.5M45.6,55.28h5.5M371.2,55.28h-5.5M45.6,52.50h11.3M371.2,52.50h-11.3M45.6,34.23h5.5M371.2,34.23h-5.5M45.6,23.54h5.5M371.2,23.54h-5.5M45.6,458.50h7.2M371.2,458.50h-7.2M45.6,442.51h5.3M371.2,442.51h-5.3M45.6,428.99h5.3M371.2,428.99h-5.3M45.6,417.27h5.3M371.2,417.27h-5.3M45.6,406.94h5.3M371.2,406.94h-5.3M45.6,397.70h7.2M371.2,397.70h-7.2M45.6,389.34h5.3M371.2,389.34h-5.3M45.6,381.71h5.3M371.2,381.71h-5.3M45.6,374.69h5.3M371.2,374.69h-5.3M45.6,368.19h5.3M371.2,368.19h-5.3M45.6,362.13h7.2M371.2,362.13h-7.2M45.6,356.47h5.3M371.2,356.47h-5.3M45.6,351.16h5.3M371.2,351.16h-5.3M45.6,346.14h5.3M371.2,346.14h-5.3M45.6,341.40h5.3M371.2,341.40h-5.3M45.6,336.90h7.2M371.2,336.90h-7.2M45.6,332.62h5.3M371.2,332.62h-5.3M45.6,328.54h5.3M371.2,328.54h-5.3M45.6,324.64h5.3M371.2,324.64h-5.3M45.6,320.91h5.3M371.2,320.91h-5.3M45.30,17.3v8M45.30,317.3v-8M45.30,317.3v5M45.30,477.8v-5M74.65,17.3v4M74.65,317.3v-4M74.65,317.3v2.5M74.65,477.8v-2.5M104.00,17.3v4M104.00,317.3v-4M104.00,317.3v2.5M104.00,477.8v-2.5M133.35,17.3v4M133.35,317.3v-4M133.35,317.3v2.5M133.35,477.8v-2.5M162.70,17.3v8M162.70,317.3v-8M162.70,317.3v5M162.70,477.8v-5M192.05,17.3v4M192.05,317.3v-4M192.05,317.3v2.5M192.05,477.8v-2.5M221.40,17.3v4M221.40,317.3v-4M221.40,317.3v2.5M221.40,477.8v-2.5M250.75,17.3v4M250.75,317.3v-4M250.75,317.3v2.5M250.75,477.8v-2.5M280.10,17.3v8M280.10,317.3v-8M280.10,317.3v5M280.10,477.8v-5M309.45,17.3v4M309.45,317.3v-4M309.45,317.3v2.5M309.45,477.8v-2.5M338.80,17.3v4M338.80,317.3v-4M338.80,317.3v2.5M338.80,477.8v-2.5M368.15,17.3v4M368.15,317.3v-4M368.15,317.3v2.5M368.15,477.8v-2.5" stroke="#000" stroke-width="1" fill="none"/>
<rect x="45.6" y="17.3" width="325.59999999999997" height="300.0" fill="none" stroke="#000" stroke-width="1.2"/>
<rect x="45.6" y="317.3" width="325.59999999999997" height="160.5" fill="none" stroke="#000" stroke-width="1.2"/>
<line x1="45.6" y1="477.8" x2="371.2" y2="477.8" stroke="#000" stroke-width="2"/>
<text x="52" y="13.6" font-size="12">13000 GeV pp</text>
<text x="366" y="13.6" font-size="12" text-anchor="end">Z+Jet</text>
<text x="90.93" y="42" font-size="12.1">Toward region, 60</text>
<text x="190.5" y="42" font-size="12.1">&lt;</text>
<text x="201.8" y="42" font-size="12.1">p</text>
<text x="205.8" y="48.8" font-size="8.2">T</text>
<text x="205.4" y="36.5" font-size="8.2">Z</text>
<text x="215.0" y="42" font-size="12.1">&lt; 80 [GeV], inclusive</text>
<text x="40.45" y="57.0" font-size="11.5" text-anchor="end">10</text>
<text x="39.8" y="117.8" font-size="11.5" text-anchor="end">1</text>
<text x="33.35" y="179.2" font-size="11.5" text-anchor="end">10</text>
<text x="32.90" y="174.5" font-size="7.6">−1</text>
<text x="31.85" y="239.9" font-size="11.5" text-anchor="end">10</text>
<text x="31.40" y="235.2" font-size="7.6">−2</text>
<text x="31.85" y="300.6" font-size="11.5" text-anchor="end">10</text>
<text x="31.40" y="295.9" font-size="7.6">−3</text>
<text x="38.6" y="340.7" font-size="11.5" text-anchor="end">2</text>
<text x="37.8" y="401.8" font-size="11.5" text-anchor="end">1</text>
<text x="38.3" y="462.0" font-size="11.5" text-anchor="end">0.5</text>
<text x="373.3" y="340.6" font-size="11.5">2</text>
<text x="374.4" y="402.3" font-size="11.5">1</text>
<text x="373.6" y="461.8" font-size="11.5">0.5</text>
<text x="46.05" y="488.8" font-size="11.5" text-anchor="middle">0</text>
<text x="163.05" y="488.8" font-size="11.5" text-anchor="middle">2</text>
<text x="280.00" y="488.8" font-size="11.5" text-anchor="middle">4</text>
<text x="289.1" y="500.7" font-size="12" textLength="26.6" lengthAdjust="spacingAndGlyphs">Mean</text>
<text x="322.4" y="500.7" font-size="12">p</text>
<text x="329.9" y="508.4" font-size="8.2">T</text>
<text x="334.2" y="500.7" font-size="12" textLength="34.2" lengthAdjust="spacingAndGlyphs">/dη dϕ</text>
<text transform="translate(14.9,165.6) rotate(-90)" font-size="11.7">1/N<tspan font-size="7.7" dy="3.6">ev</tspan><tspan dy="-3.6"> dN</tspan><tspan font-size="7.7" dy="3.6">ev</tspan><tspan dy="-3.6">/d mean p</tspan><tspan font-size="7.7" dy="4.4">T</tspan><tspan dy="-4.4"> [GeV]</tspan><tspan font-size="7.7" dy="-6">-1</tspan></text>
<text transform="translate(18.7,397) rotate(-90)" font-size="9" text-anchor="middle">Ratio to ATLAS</text>
<text transform="translate(380.4,128.2) rotate(-90)" font-size="9.6" fill="#5a5a5a">Rivet 4.1.0, ≥ 3.8M events</text>
<text transform="translate(380.8,314.6) rotate(-90)" font-size="9.45" fill="#5a5a5a">mcplots.cern.ch [arXiv:2401.10621]</text>
<text x="162.6" y="301.8" font-size="8" fill="#8a8a8a">(ATLAS_2019_I1736531)</text>
<text x="94.2" y="226.9" font-size="9.4">ATLAS</text>
<text x="94.2" y="240.1" font-size="9.4">Herwig 7.2.1 default</text>
<text x="94.2" y="252.9" font-size="9.4">Pythia 6.428 370</text>
<text x="94.2" y="266.0" font-size="9.4">Pythia 8.315 default</text>
<text x="94.2" y="279.0" font-size="9.4">Sherpa 2.2.9 default</text>
<rect x="73.40" y="220.80" width="6.00" height="6.00" fill="#000"/>
<line x1="64" y1="236.8" x2="89" y2="236.8" stroke="#3f9a22" stroke-width="1" stroke-dasharray="2.5,1.8"/>
<rect x="73.40" y="233.80" width="6.00" height="6.00" fill="none" stroke="#3f9a22" stroke-width="1.1"/>
<line x1="64" y1="250.2" x2="89" y2="250.2" stroke="#a5102a" stroke-width="1"/>
<polygon points="73.20,253.24 79.60,253.24 76.40,246.84" fill="none" stroke="#a5102a" stroke-width="1.2"/>
<line x1="64" y1="263.4" x2="89" y2="263.4" stroke="#0000ee" stroke-width="1"/>
<polygon points="73.60,266.06 79.20,266.06 76.40,260.46" fill="#0000ee"/>
<line x1="64" y1="276.4" x2="89" y2="276.4" stroke="#ff0000" stroke-width="1" stroke-dasharray="1,1.5"/>
<polygon points="76.40,273.28 78.60,276.40 76.40,279.52 74.20,276.40" fill="#ff0000"/>
</svg></body></html>
